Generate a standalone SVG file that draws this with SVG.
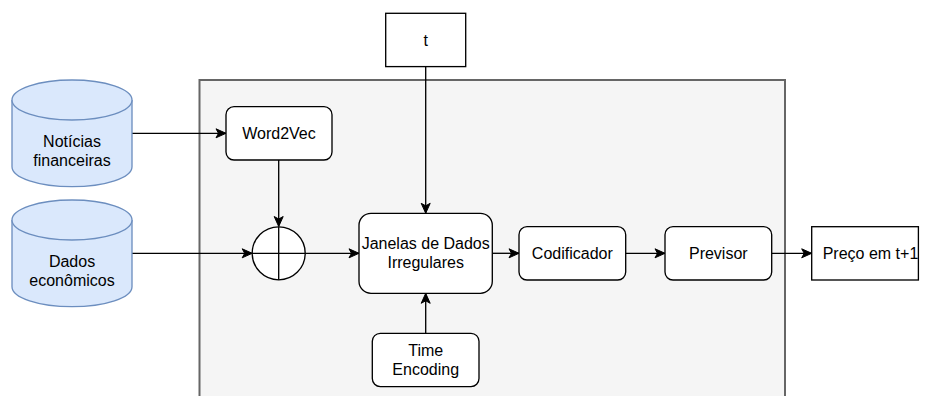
<svg xmlns="http://www.w3.org/2000/svg" width="926" height="396" viewBox="0 0 926 396">
  <defs>
    <style>
      text { font-family: "Liberation Sans", Arial, sans-serif; font-size: 16px; fill: #000000; text-anchor: middle; }
      .box { fill: #ffffff; stroke: #000000; stroke-width: 1.33; }
      .db { fill: #dae8fc; stroke: #6c8ebf; stroke-width: 1.33; }
      .edge { fill: none; stroke: #000000; stroke-width: 1.33; marker-end: url(#arrow); }
      .plain { fill: none; stroke: #000000; stroke-width: 1.33; }
    </style>
    <marker id="arrow" markerUnits="userSpaceOnUse" markerWidth="12" markerHeight="12" viewBox="0 0 12 12" refX="11" refY="6" orient="auto">
      <path d="M1,1.5 L11,6 L1,10.5 L3.5,6 Z" fill="#000000" stroke="#000000" stroke-width="1"/>
    </marker>
  </defs>

  <!-- processing area -->
  <g id="container">
    <rect x="199.5" y="80" width="585.5" height="330" fill="#f5f5f5" stroke="#666666" stroke-width="2"/>
  </g>

  <!-- connectors -->
  <g id="connectors">
    <line class="edge" x1="132" y1="133.3" x2="226" y2="133.3"/>
    <line class="edge" x1="278.7" y1="160" x2="278.7" y2="226.5"/>
    <line class="edge" x1="132" y1="253.3" x2="252.2" y2="253.3"/>
    <line class="edge" x1="305.2" y1="253.3" x2="359" y2="253.3"/>
    <line class="edge" x1="425.7" y1="66.7" x2="425.7" y2="213.3"/>
    <line class="edge" x1="425.7" y1="333.3" x2="425.7" y2="293.3"/>
    <line class="edge" x1="492.3" y1="253.3" x2="519" y2="253.3"/>
    <line class="edge" x1="625.7" y1="253.3" x2="665" y2="253.3"/>
    <line class="edge" x1="771.7" y1="253.3" x2="811.7" y2="253.3"/>
  </g>

  <!-- data sources -->
  <g id="noticias">
    <path class="db" d="M12,100 A60,20 0 0 1 132,100 L132,166.7 A60,20 0 0 1 12,166.7 Z"/>
    <path class="db" d="M12,100 A60,20 0 0 0 132,100" fill="none"/>
    <text x="72" y="146.9">Notícias</text>
    <text x="72" y="166.1">financeiras</text>
  </g>
  <g id="dados">
    <path class="db" d="M12,220 A60,20 0 0 1 132,220 L132,286.7 A60,20 0 0 1 12,286.7 Z"/>
    <path class="db" d="M12,220 A60,20 0 0 0 132,220" fill="none"/>
    <text x="72" y="266.9">Dados</text>
    <text x="72" y="286.1">econômicos</text>
  </g>

  <g id="word2vec">
    <rect class="box" x="226" y="106.7" width="106" height="53.3" rx="8" ry="8"/>
    <text x="279" y="138.8">Word2Vec</text>
  </g>

  <!-- concatenation node -->
  <g id="juncao">
    <circle class="box" cx="278.7" cy="253.3" r="26.5"/>
    <line class="plain" x1="278.7" y1="226.8" x2="278.7" y2="279.8"/>
    <line class="plain" x1="252.2" y1="253.3" x2="305.2" y2="253.3"/>
  </g>

  <g id="t">
    <rect class="box" x="385.7" y="13.3" width="80" height="53.3"/>
    <text x="425.7" y="45.5">t</text>
  </g>

  <g id="janelas">
    <rect class="box" x="359" y="213.3" width="133.3" height="80" rx="12" ry="12"/>
    <text x="425.7" y="249.2">Janelas de Dados</text>
    <text x="425.7" y="268.4">Irregulares</text>
  </g>

  <g id="time-encoding">
    <rect class="box" x="372.3" y="333.3" width="106.7" height="53.3" rx="8" ry="8"/>
    <text x="425.7" y="355.9">Time</text>
    <text x="425.7" y="375.1">Encoding</text>
  </g>

  <g id="codificador">
    <rect class="box" x="519" y="226.7" width="106.7" height="53.3" rx="8" ry="8"/>
    <text x="572.3" y="258.8">Codificador</text>
  </g>

  <g id="previsor">
    <rect class="box" x="665" y="226.7" width="106.7" height="53.3" rx="8" ry="8"/>
    <text x="718.3" y="258.8">Previsor</text>
  </g>

  <g id="preco">
    <rect class="box" x="811.7" y="226.7" width="106.7" height="53.3"/>
    <text x="870.5" y="258.8">Preço em t+1</text>
  </g>
</svg>
